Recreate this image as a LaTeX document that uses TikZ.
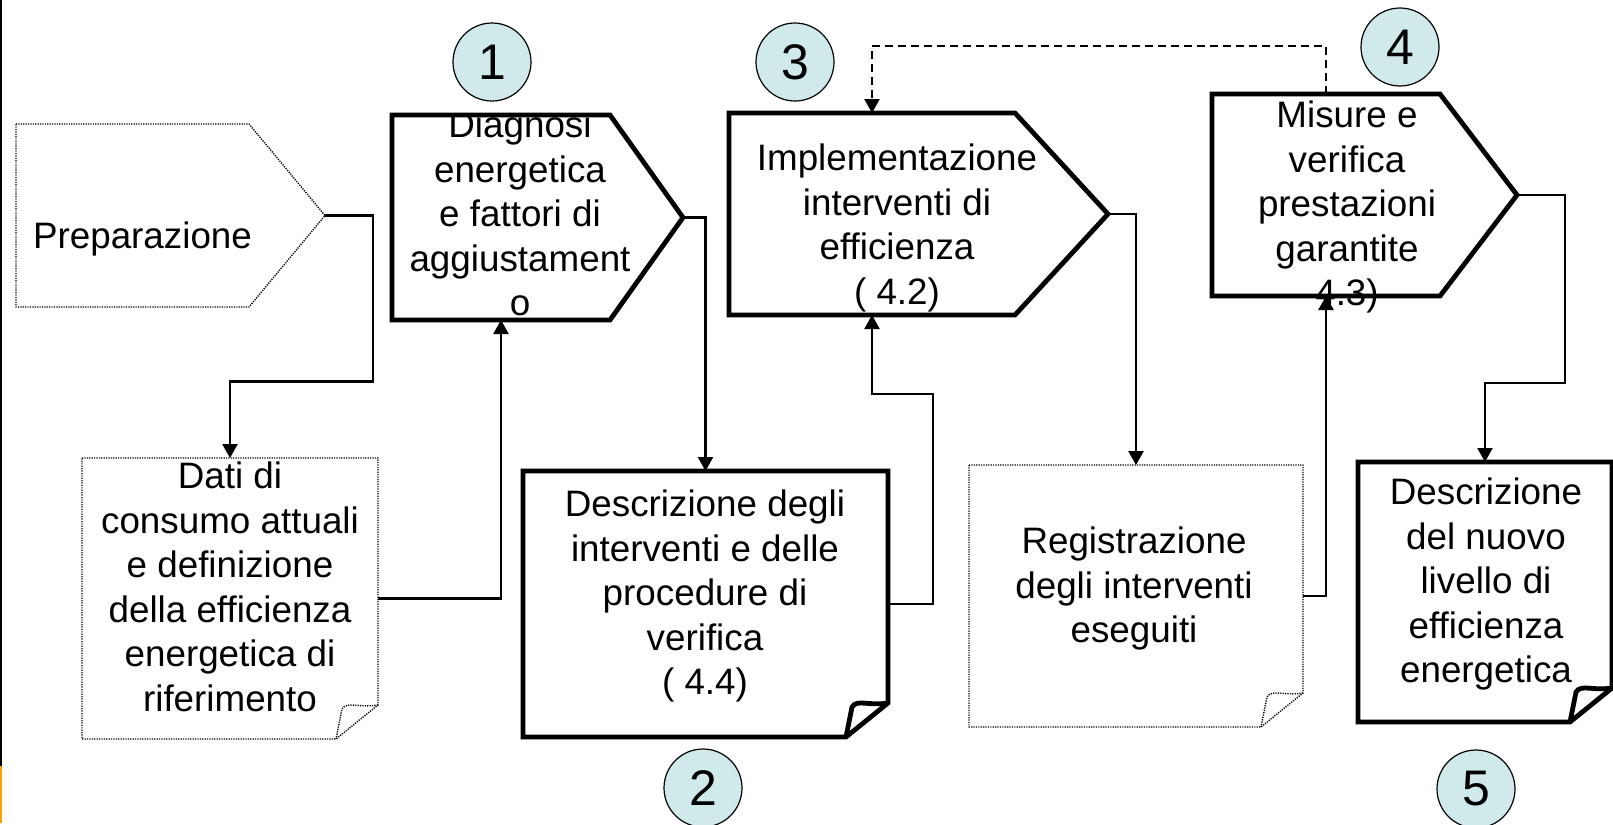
\documentclass[tikz,border=0pt]{standalone}
\usepackage{fontspec}
\setmainfont{Liberation Sans}
\usetikzlibrary{calc,arrows.meta}

\definecolor{badgefill}{RGB}{208,234,236}
\definecolor{edgeorange}{RGB}{247,160,0}

\newcommand{\boxfont}{\fontsize{18.4}{22.3}\selectfont}

% pentagon round a box node: node, style, tip
\newcommand{\pentagon}[3]{%
  \draw[#2] (#1.north west) -- (#1.north east) -- (#3) -- (#1.south east) -- (#1.south west) -- cycle;}
% sheet with folded corner round a box node: node, style
\newcommand{\folded}[2]{%
  \draw[#2] (#1.north west) -- (#1.north east) -- ($(#1.south east)+(0,-34)$)
    -- ($(#1.south east)+(-42,0)$) -- (#1.south west) -- cycle;
  \draw[#2] ($(#1.south east)+(0,-34)$) .. controls ($(#1.south east)+(-20,-31)$) and ($(#1.south east)+(-31,-38)$)
    .. ($(#1.south east)+(-36,-30)$) -- ($(#1.south east)+(-42,0)$);}

\tikzset{
  box/.style={rectangle, inner sep=0pt, outer sep=0pt},
  heavy/.style={line width=2.4pt, line join=miter},
  light/.style={line width=0.7pt, dash pattern=on 0.6pt off 0.6pt},
  txt/.style={font=\boxfont, align=center, inner sep=0pt, anchor=north},
  badge/.style={circle, draw, line width=0.6pt, fill=badgefill, minimum size=39pt,
    inner sep=0pt, font=\fontsize{25}{29}\selectfont},
  link/.style={line width=1.2pt, -{Triangle[length=7pt,width=7.5pt]}},
  feedback/.style={link, dash pattern=on 4pt off 2.5pt}
}

\begin{document}
\begin{tikzpicture}[x=0.5pt,y=-0.5pt]
	\useasboundingbox (0,0) rectangle (1613,825);
	
	% left edge
	\draw[line width=1pt] (1,0) -- (1,766);
	\draw[line width=1pt, edgeorange] (1,766) -- (1,823);
	
	% boxes
	\node[box, minimum width=116.5pt, minimum height=91.5pt] (prep) at (132.5,215.5) {};
	\node[box, minimum width=109pt, minimum height=102.5pt] (diag) at (501,217.5) {};
	\node[box, minimum width=143pt, minimum height=101pt] (impl) at (872,214) {};
	\node[box, minimum width=114pt, minimum height=101pt] (misure) at (1326,195) {};
	
	\node[box, minimum width=148pt, minimum height=140.5pt] (dati) at (230,598.5) {};
	\node[box, minimum width=182.5pt, minimum height=133pt] (descr) at (705.5,604) {};
	\node[box, minimum width=167pt, minimum height=131pt] (reg) at (1136,596) {};
	\node[box, minimum width=127pt, minimum height=130pt] (nuovo) at (1485,592) {};
	
	\coordinate (prep-tip) at ($(prep.east)+(76,0)$);
	\coordinate (diag-tip) at ($(diag.east)+(73,0)$);
	\coordinate (impl-tip) at ($(impl.east)+(93,0)$);
	\coordinate (misure-tip) at ($(misure.east)+(77,0)$);
	
	% texts
	\node[txt, anchor=base] (prep-lbl) at (142.5,248) {Preparazione};
	\begin{scope}
		\clip (diag.north west) -- (diag.north east) -- (diag-tip) -- (diag.south east) -- (diag.south west) -- cycle;
		\node[txt] (diag-lbl) at (520,110.5) {Diagnosi\\energetica\\e fattori di\\aggiustament\\o};
	\end{scope}
	\node[txt] (impl-lbl) at (897,143.5) {Implementazione\\interventi di\\efficienza\\( 4.2)};
	\node[txt] (misure-lbl) at (1347,100.5) {Misure e\\verifica\\prestazioni\\garantite\\4.3)};
	\node[txt] (dati-lbl) at (230,461.5) {Dati di\\consumo attuali\\e definizione\\della efficienza\\energetica di\\riferimento};
	\node[txt] (descr-lbl) at (705,489.5) {Descrizione degli\\interventi e delle\\procedure di\\verifica\\( 4.4)};
	\node[txt] (reg-lbl) at (1134,526.5) {Registrazione\\degli interventi\\eseguiti};
	\node[txt] (nuovo-lbl) at (1486,477.5) {Descrizione\\del nuovo\\livello di\\efficienza\\energetica};
	
	% outlines
	\pentagon{prep}{light}{prep-tip}
	\pentagon{diag}{heavy}{diag-tip}
	\pentagon{impl}{heavy}{impl-tip}
	\pentagon{misure}{heavy}{misure-tip}
	\folded{dati}{light}
	\folded{descr}{heavy}
	\folded{reg}{light}
	\folded{nuovo}{heavy}
	
	% steps
	\node[badge] (step1) at (492,62) {1};
	\node[badge] (step2) at (703,788) {2};
	\node[badge] (step3) at (795,62) {3};
	\node[badge] (step4) at (1400,47) {4};
	\node[badge] (step5) at (1476,789) {5};
	
	% flow
	\draw[link] (prep-tip) -- ++(48,0) -- ++(0,166) -| (dati.north);
	\draw[link] (dati.east) -| (diag.south);
	\draw[link] (diag-tip) -| (descr.north);
	\draw[link] (descr.east) -- ++(45,0) |- ($(impl.south)+(0,79)$) -- (impl.south);
	\draw[link] (impl-tip) -| (reg.north);
	\draw[link] (reg.east) -| (misure.south);
	\draw[link] (misure-tip) -- ++(48,0) |- ($(nuovo.north)+(0,-79)$) -- (nuovo.north);
	\draw[feedback] (misure.north) |- ($(impl.north)+(0,-67)$) -- (impl.north);
\end{tikzpicture}
\end{document}
